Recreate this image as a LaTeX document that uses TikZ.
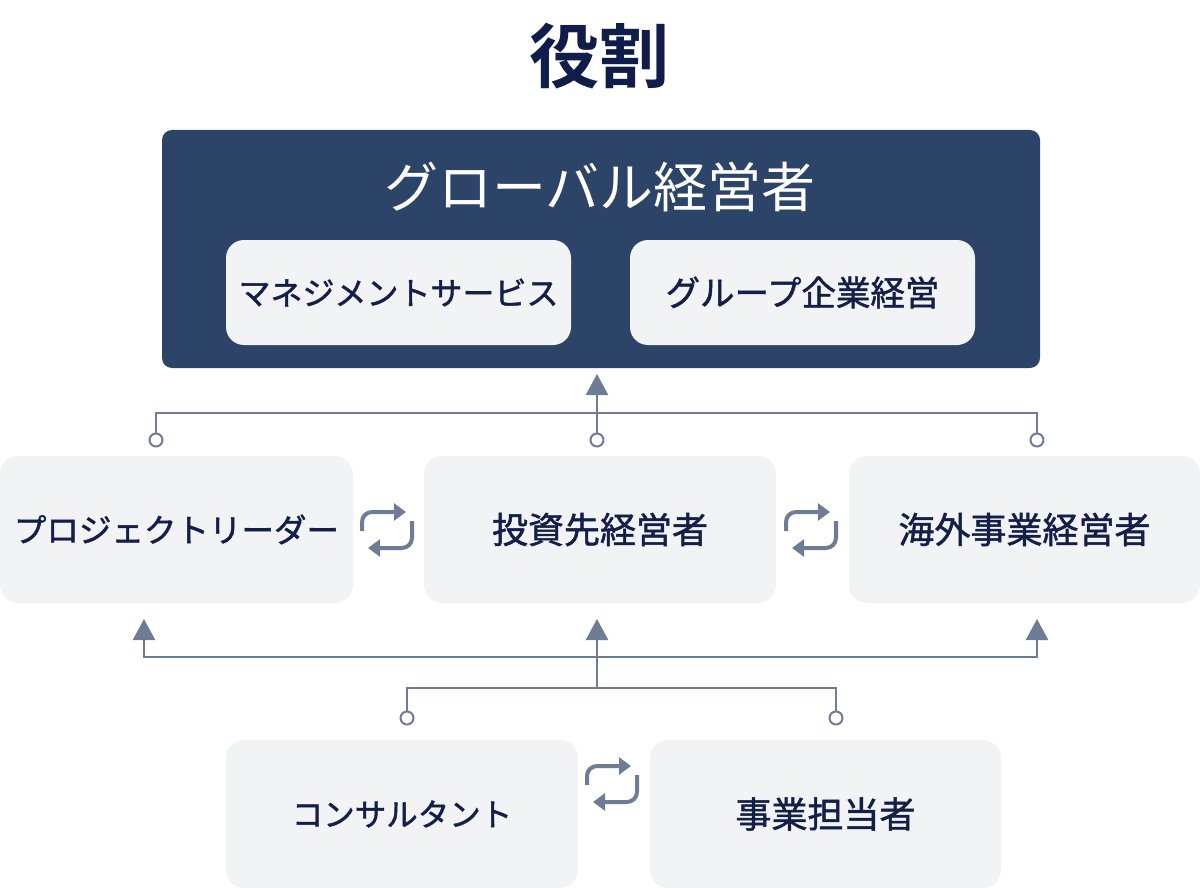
\documentclass[tikz,border=0pt]{standalone}
\usepackage{fontspec}
\newfontfamily\jp{Noto Sans CJK JP}[BoldFont={Noto Sans CJK JP Bold}]
\newfontfamily\jpm{Noto Sans CJK JP}[FakeBold=1.4]
\usetikzlibrary{arrows.meta}
\definecolor{navy}{HTML}{2D4469}
\definecolor{ink}{HTML}{141F48}
\definecolor{titleink}{HTML}{101C4A}
\definecolor{pale}{HTML}{F2F3F5}
\definecolor{slate}{HTML}{6F7C95}
\tikzset{
  card/.style={fill=pale, rounded corners=18pt, inner sep=0pt, font=\jpm\fontsize{36}{40}\selectfont, text=ink},
  kana/.style={font=\jpm\fontsize{32.5}{36}\selectfont},
  link/.style={draw=slate, line width=2.5pt},
  uparrow/.style={link, -{Triangle[length=21pt,width=22pt]}},
  dot/.style={circle, draw=slate, fill=white, line width=2pt, minimum size=13pt, inner sep=0pt},
  swapline/.style={draw=slate, line width=4pt, rounded corners=10pt, -{Triangle[length=12pt,width=17pt]}},
}
\newcommand{\swapicon}[2]{%
  \draw[swapline] (#1-25,#2+1) -- (#1-25,#2-18) -- (#1+19,#2-18);
  \draw[swapline] (#1+25,#2-9) -- (#1+25,#2+18) -- (#1-19,#2+18);
}
\begin{document}
\begin{tikzpicture}[x=1pt,y=-1pt]
\useasboundingbox (0,0) rectangle (1200,888);
% title
\node[font=\jp\bfseries\fontsize{70}{76}\selectfont, text=titleink] (title) at (599,56) {役割};
% top box
\node[fill=navy, rounded corners=10pt, minimum width=878pt, minimum height=238pt, inner sep=0pt] (top) at (601,249) {};
\node[font=\jp\fontsize{54}{60}\selectfont, text=white] (toplabel) at (600,187) {グローバル経営者};
\node[card, minimum width=345pt, minimum height=105pt, font=\jpm\fontsize{32}{36}\selectfont] (ms) at (398.5,292.5) {マネジメントサービス};
\node[card, minimum width=345pt, minimum height=105pt, font=\jpm\fontsize{34.5}{38}\selectfont] (gk) at (802.5,292.5) {グループ企業経営};
% middle row
\node[card, kana, minimum width=353pt, minimum height=147pt] (pl) at (176.5,529.5) {プロジェクトリーダー};
\node[card, minimum width=352pt, minimum height=147pt] (ti) at (600,529.5) {投資先経営者};
\node[card, minimum width=351pt, minimum height=147pt] (ko) at (1024.5,529.5) {海外事業経営者};
% bottom row
\node[card, kana, minimum width=352pt, minimum height=148pt, font=\jpm\fontsize{31.5}{36}\selectfont] (cs) at (402,814) {コンサルタント};
\node[card, minimum width=351pt, minimum height=148pt] (jt) at (825.5,814) {事業担当者};
% swap icons
\swapicon{387}{530}
\swapicon{811}{530}
\swapicon{612}{784}
% upper connectors
\node[dot] (d1) at (156,440) {};
\node[dot] (d2) at (597,440) {};
\node[dot] (d3) at (1037,440) {};
\coordinate (hl) at (156,413);
\coordinate (hr) at (1037,413);
\coordinate (topin) at (597,374);
\draw[link] (d1.north) -- (hl) -- (hr) -- (d3.north);
\draw[uparrow] (d2.north) -- (topin);
% lower connectors
\node[dot] (d4) at (407,718) {};
\node[dot] (d5) at (836,718) {};
\coordinate (ll) at (407,688);
\coordinate (lr) at (836,688);
\coordinate (lm) at (597,688);
\coordinate (um) at (597,657);
\coordinate (ul) at (144,657);
\coordinate (ur) at (1037,657);
\coordinate (pin) at (144,619);
\coordinate (tin) at (597,619);
\coordinate (kin) at (1037,619);
\draw[link] (d4.north) -- (ll) -- (lr) -- (d5.north);
\draw[uparrow] (lm) -- (tin);
\draw[uparrow] (um) -- (ul) -- (pin);
\draw[uparrow] (um) -- (ur) -- (kin);
\end{tikzpicture}
\end{document}
